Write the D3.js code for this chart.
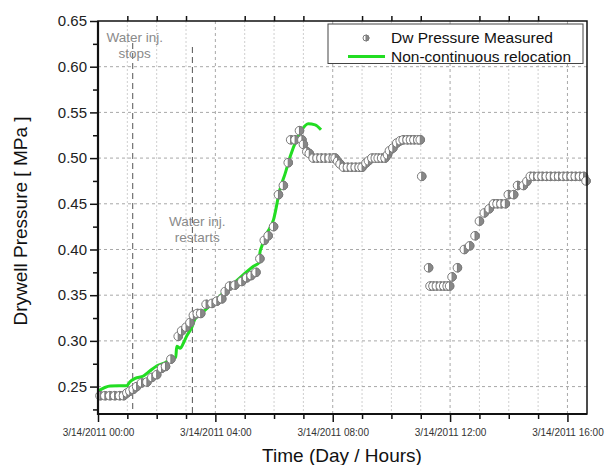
<!DOCTYPE html>
<html>
<head>
<meta charset="utf-8">
<script src="https://cdn.jsdelivr.net/npm/d3@7"></script>
<style>
body { margin: 0; background: #fff; }
svg { display: block; font-family: "Liberation Sans", Arial, sans-serif; }
</style>
</head>
<body>
<div id="chart"></div>
<script>
// measured drywell pressure (time of day on 3/14/2011, MPa)
var measuredTimes = [
  "00:04","00:14","00:24","00:34","00:44","00:52",
  "00:59","01:05","01:12","01:19","01:29","01:40","01:50","02:00","02:10","02:18","02:29",
  "02:44","02:51","03:00","03:08","03:15","03:23","03:30","03:41","03:53","04:03","04:13",
  "04:20","04:29","04:40","04:54","05:04","05:13","05:23","05:31","05:40","05:48","05:59",
  "06:09","06:19","06:29","06:34","06:43","06:52","06:57","07:00","07:07","07:12","07:20",
  "07:28","07:36","07:44","07:53","08:01","08:05","08:10","08:15","08:22",
  "08:30","08:38","08:46","08:54","09:00","09:08","09:13","09:20","09:27","09:33","09:40","09:47",
  "09:52","09:56","10:03","10:11","10:18","10:24","10:32","10:39","10:46","10:54","10:59","11:02",
  "11:16","11:19","11:25","11:32","11:40","11:47","11:54","11:59","12:04","12:15",
  "12:29","12:40","12:51","13:00","13:10","13:20","13:29","13:36","13:44","13:53",
  "13:59","14:10","14:18","14:30","14:37","14:44",
  "14:51","15:00","15:08","15:17","15:25","15:34","15:42","15:51","15:59","16:08","16:16","16:25","16:33","16:38"
]
var measuredValues = [
  0.24,0.24,0.24,0.24,0.24,0.24,
  0.243,0.245,0.247,0.25,0.254,0.255,0.26,0.263,0.27,0.272,0.28,
  0.305,0.311,0.315,0.32,0.328,0.33,0.33,0.34,0.341,0.3435,0.346,
  0.354,0.36,0.361,0.365,0.369,0.3715,0.375,0.39,0.41,0.415,0.425,
  0.46,0.47,0.495,0.52,0.52,0.53,0.52,0.515,0.507,0.505,0.50,
  0.50,0.50,0.50,0.50,0.50,0.50,0.4965,0.4935,0.49,
  0.49,0.49,0.49,0.49,0.49,0.4945,0.497,0.50,0.50,0.50,0.50,0.50,
  0.5035,0.508,0.511,0.5165,0.519,0.52,0.52,0.52,0.52,0.52,0.52,0.48,
  0.38,0.36,0.36,0.36,0.36,0.36,0.36,0.36,0.37,0.38,
  0.40,0.404,0.415,0.431,0.44,0.4445,0.45,0.45,0.45,0.45,
  0.46,0.46,0.47,0.47,0.4745,0.48,
  0.48,0.48,0.48,0.48,0.48,0.48,0.48,0.48,0.48,0.48,0.48,0.48,0.48,0.475
]

// non-continuous relocation curve
var relocTimes = ["00:00","00:14","00:25","00:59","01:05","01:16","01:33","01:46","02:00","02:17",
  "02:34","02:39","02:41","02:48","02:55","03:01","03:12","03:18","03:29","03:56",
  "04:23","04:50","05:18","05:30","05:31","05:35","05:42","05:59","06:12","06:23",
  "06:33","06:46","06:57","07:10","07:24","07:36"]
var relocValues = [0.245,0.249,0.2506,0.251,0.255,0.259,0.2616,0.267,0.2725,0.276,
  0.2815,0.282,0.294,0.292,0.298,0.305,0.315,0.3235,0.329,0.342,
  0.356,0.369,0.3817,0.386,0.396,0.4035,0.4144,0.4326,0.4654,0.4836,
  0.5018,0.52,0.531,0.5375,0.5364,0.531]

// annotations
var annotTimes = ["01:11", "03:13"]
var annotLabels = [["Water inj.", "stops"], ["Water inj.", "restarts"]]

var yTicks = [0.25, 0.30, 0.35, 0.40, 0.45, 0.50, 0.55, 0.60, 0.65]
var yMinorTicks = [0.225, 0.275, 0.325, 0.375, 0.425, 0.475, 0.525, 0.575, 0.625]

var width = 605
var height = 465
var margin = { top: 21, right: 18, bottom: 51, left: 98 }

var parseT = d3.timeParse("%Y-%m-%d %H:%M")
function t(s) { return parseT("2011-03-14 " + s) }

var measured = measuredTimes.map(function (d, i) { return { t: t(d), v: measuredValues[i] } })
var reloc = relocTimes.map(function (d, i) { return { t: t(d), v: relocValues[i] } })

var svg = d3.select("#chart").append("svg")
  .attr("width", width)
  .attr("height", height)

var x = d3.scaleTime()
  .domain([t("00:00"), t("16:40")])
  .range([margin.left, width - margin.right])

var y = d3.scaleLinear()
  .domain([0.22, 0.65])
  .range([height - margin.bottom, margin.top])

var hours = d3.timeHour.every(1).range(t("00:00"), t("16:41"))
var majorHours = hours.filter(function (d) { return d.getHours() % 4 == 0 })
var minorHours = hours.filter(function (d) { return d.getHours() % 4 != 0 })

// grid
var grid = svg.append("g")
grid.selectAll(".vminor").data(minorHours).enter().append("line")
  .attr("x1", function (d) { return x(d) }).attr("x2", function (d) { return x(d) })
  .attr("y1", y(0.65)).attr("y2", y(0.22))
  .attr("stroke", "#cfcfcf").attr("stroke-dasharray", "2,2")
grid.selectAll(".vmajor").data(majorHours.slice(1)).enter().append("line")
  .attr("x1", function (d) { return x(d) }).attr("x2", function (d) { return x(d) })
  .attr("y1", y(0.65)).attr("y2", y(0.22))
  .attr("stroke", "#a8a8a8").attr("stroke-dasharray", "3,3")
grid.selectAll(".h").data(yTicks.slice(0, -1)).enter().append("line")
  .attr("x1", x.range()[0]).attr("x2", x.range()[1])
  .attr("y1", function (d) { return y(d) }).attr("y2", function (d) { return y(d) })
  .attr("stroke", "#a8a8a8").attr("stroke-dasharray", "3,3")

// annotation lines and text
var ann = svg.append("g")
ann.selectAll("line").data(annotTimes).enter().append("line")
  .attr("x1", function (d) { return x(t(d)) }).attr("x2", function (d) { return x(t(d)) })
  .attr("y1", function (d, i) { return i == 0 ? 43 : 47 })
  .attr("y2", y(0.22))
  .attr("stroke", "#555").attr("stroke-dasharray", "6,4")
annotLabels.forEach(function (lbl, i) {
  var cx = x(t(annotTimes[i])) + (i == 0 ? 2 : 5)
  var by = i == 0 ? 41.5 : 226
  lbl.forEach(function (s, j) {
    ann.append("text")
      .attr("x", cx).attr("y", by + j * 16)
      .attr("text-anchor", "middle")
      .attr("font-size", "13.5px")
      .attr("fill", "#8a8a8a")
      .text(s)
  })
})

// relocation line
svg.append("path")
  .datum(reloc)
  .attr("fill", "none")
  .attr("stroke", "#22dd22")
  .attr("stroke-width", 3)
  .attr("d", d3.line()
    .x(function (d) { return x(d.t) })
    .y(function (d) { return y(d.v) })
    .curve(d3.curveMonotoneX))

// half-filled markers
var r = 4.3
function halfMarker(sel, rad) {
  sel.append("circle").attr("r", rad).attr("fill", "#fff").attr("stroke", "#7a7a7a").attr("stroke-width", 1)
  sel.append("path")
    .attr("d", "M0," + (-rad) + "A" + rad + "," + rad + " 0 0 1 0," + rad + "Z")
    .attr("fill", "#888").attr("stroke", "#7a7a7a").attr("stroke-width", 1)
}
svg.append("g").selectAll("g").data(measured).enter().append("g")
  .attr("transform", function (d) { return "translate(" + x(d.t) + "," + y(d.v) + ")" })
  .each(function () { halfMarker(d3.select(this), r) })

// frame
svg.append("rect")
  .attr("x", margin.left).attr("y", margin.top)
  .attr("width", width - margin.left - margin.right)
  .attr("height", height - margin.top - margin.bottom)
  .attr("fill", "none").attr("stroke", "#111").attr("stroke-width", 1.5)

// axes
var yAxis = svg.append("g")
  .attr("transform", "translate(" + margin.left + ",0)")
  .call(d3.axisLeft(y).tickValues(yTicks).tickSize(8).tickPadding(3).tickFormat(d3.format(".2f")))
yAxis.select(".domain").remove()
yAxis.selectAll("text").attr("font-size", "15px").attr("fill", "#222").attr("font-family", null)
yAxis.selectAll("line").attr("stroke", "#111").attr("stroke-width", 1.5)

var yMinor = svg.append("g")
  .attr("transform", "translate(" + margin.left + ",0)")
  .call(d3.axisLeft(y).tickValues(yMinorTicks).tickSize(5).tickFormat(""))
yMinor.select(".domain").remove()
yMinor.selectAll("line").attr("stroke", "#111").attr("stroke-width", 1.5)

var xAxis = svg.append("g")
  .attr("transform", "translate(0," + (height - margin.bottom) + ")")
  .call(d3.axisBottom(x).tickValues(majorHours).tickSize(8).tickPadding(7)
    .tickFormat(d3.timeFormat("%-m/%d/%Y %H:%M")))
xAxis.select(".domain").remove()
xAxis.selectAll("text").attr("font-size", "10px").attr("fill", "#333").attr("font-family", null)
xAxis.selectAll("line").attr("stroke", "#111").attr("stroke-width", 1.5)

var xMinor = svg.append("g")
  .attr("transform", "translate(0," + (height - margin.bottom) + ")")
  .call(d3.axisBottom(x).tickValues(minorHours).tickSize(5).tickFormat(""))
xMinor.select(".domain").remove()
xMinor.selectAll("line").attr("stroke", "#111").attr("stroke-width", 1.5)

var xTop = svg.append("g")
  .attr("transform", "translate(0," + margin.top + ")")
  .call(d3.axisTop(x).tickValues(minorHours).tickSize(5).tickFormat(""))
xTop.select(".domain").remove()
xTop.selectAll("line").attr("stroke", "#111").attr("stroke-width", 1.5)

// heavier left and bottom axis lines
svg.append("line")
  .attr("x1", margin.left).attr("x2", margin.left)
  .attr("y1", margin.top).attr("y2", height - margin.bottom + 1)
  .attr("stroke", "#111").attr("stroke-width", 2.2)
svg.append("line")
  .attr("x1", margin.left - 1).attr("x2", width - margin.right)
  .attr("y1", height - margin.bottom).attr("y2", height - margin.bottom)
  .attr("stroke", "#111").attr("stroke-width", 2.2)

// axis titles
svg.append("text")
  .attr("x", 342).attr("y", 461.5)
  .attr("text-anchor", "middle")
  .attr("font-size", "19px").attr("fill", "#111")
  .text("Time (Day / Hours)")
svg.append("text")
  .attr("transform", "translate(27,221) rotate(-90)")
  .attr("text-anchor", "middle")
  .attr("font-size", "19px").attr("fill", "#111")
  .text("Drywell Pressure [ MPa ]")

// legend
var legend = svg.append("g")
legend.append("rect")
  .attr("x", 328).attr("y", 24).attr("width", 255).attr("height", 39.5)
  .attr("fill", "#fff").attr("stroke", "#444").attr("stroke-width", 1)
var sym = legend.append("g").attr("transform", "translate(366,38)")
halfMarker(sym, 3)
legend.append("line")
  .attr("x1", 348).attr("x2", 385).attr("y1", 56.5).attr("y2", 56.5)
  .attr("stroke", "#22dd22").attr("stroke-width", 3)
legend.append("text").attr("x", 391).attr("y", 43)
  .attr("font-size", "15.5px").attr("fill", "#111").text("Dw Pressure Measured")
legend.append("text").attr("x", 391).attr("y", 62)
  .attr("font-size", "15.5px").attr("fill", "#111").text("Non-continuous relocation")
</script>
</body>
</html>
